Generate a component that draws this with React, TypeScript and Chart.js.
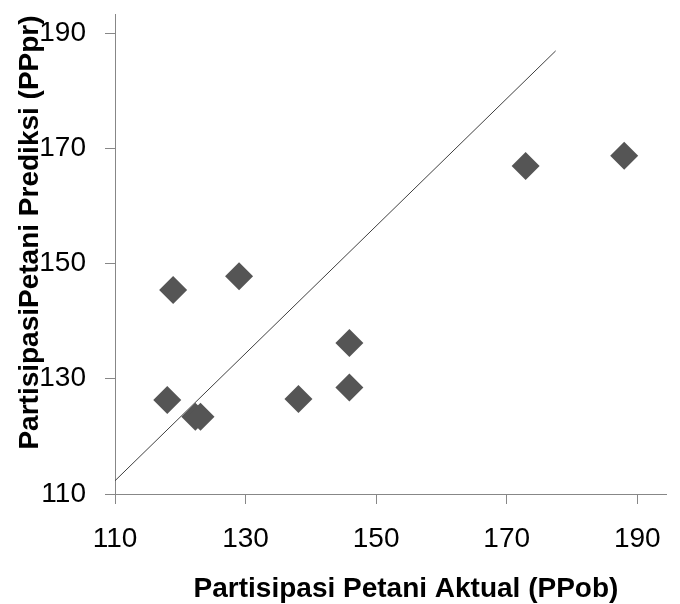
import React, { useEffect, useRef } from "react";
import { Chart, registerables } from "chart.js";

Chart.register(...registerables);

// Observed (actual) vs predicted participation
const actualPPob = [118, 118.9, 122.3, 123.1, 129, 138.1, 145.9, 145.9, 172.9, 188];
const predictedPPpr = [126.3, 145.4, 123.4, 123.4, 147.8, 126.5, 128.5, 136.2, 166.9, 168.7];

// Reference line end points
const lineX = [110, 177.5];
const lineY = [112.3, 186.9];

const xTicks = [110, 130, 150, 170, 190];
const yTicks = [110, 130, 150, 170, 190];

const xTitle = "Partisipasi Petani Aktual (PPob)";
const yTitle = "PartisipasiPetani Prediksi (PPpr)";

const FONT = "'Liberation Sans', Arial, sans-serif";
const AXIS = "#878787";

const titlePlugin = {
  id: "axisTitlesCustom",
  afterDraw(chart: any) {
    const ctx = chart.ctx;
    ctx.save();
    ctx.fillStyle = "#000";
    ctx.font = `bold 28px ${FONT}`;
    ctx.textAlign = "center";
    ctx.textBaseline = "alphabetic";
    ctx.fillText(xTitle, 406, 597);
    ctx.translate(38, 232.5);
    ctx.rotate(-Math.PI / 2);
    ctx.fillText(yTitle, 0, 0);
    ctx.restore();
  },
};

export default function App() {
  const ref = useRef<HTMLCanvasElement | null>(null);

  useEffect(() => {
    if (!ref.current) return;
    const chart = new Chart(ref.current, {
      type: "scatter",
      data: {
        datasets: [
          {
            label: "line",
            data: lineX.map((x, i) => ({ x, y: lineY[i] })),
            showLine: true,
            borderColor: "#3f3f3f",
            borderWidth: 1,
            pointRadius: 0,
            order: 2,
          },
          {
            label: "data",
            data: actualPPob.map((x, i) => ({ x, y: predictedPPpr[i] })),
            pointStyle: "rectRot",
            pointRadius: 14,
            pointHoverRadius: 14,
            backgroundColor: "#555555",
            borderColor: "#555555",
            borderWidth: 0,
            order: 1,
          },
        ],
      },
      options: {
        responsive: false,
        animation: false,
        events: [],
        layout: { padding: { top: 10, right: 14, left: 0, bottom: 0 } },
        plugins: {
          legend: { display: false },
          tooltip: { enabled: false },
          title: { display: false },
        },
        scales: {
          x: {
            type: "linear",
            min: 110,
            max: 194.4,
            afterBuildTicks: (s: any) => {
              s.ticks = xTicks.map((v) => ({ value: v }));
            },
            afterFit: (s: any) => {
              s.height = 110;
              s.paddingLeft = 0;
              s.paddingRight = 0;
            },
            grid: { drawOnChartArea: false, drawTicks: true, tickLength: 10, color: AXIS },
            border: { color: AXIS, width: 1 },
            ticks: {
              color: "#000",
              font: { family: FONT, size: 28 },
              padding: 18,
              maxRotation: 0,
            },
          },
          y: {
            type: "linear",
            min: 110,
            max: 193.3,
            afterBuildTicks: (s: any) => {
              s.ticks = yTicks.map((v) => ({ value: v }));
            },
            afterFit: (s: any) => {
              s.width = 115;
              s.paddingTop = 0;
              s.paddingBottom = 0;
            },
            grid: { drawOnChartArea: false, drawTicks: true, tickLength: 10, color: AXIS },
            border: { color: AXIS, width: 1 },
            ticks: {
              color: "#000",
              font: { family: FONT, size: 28 },
              padding: 19,
            },
          },
        },
      },
      plugins: [titlePlugin],
    } as any);
    return () => chart.destroy();
  }, []);

  return (
    <div style={{ position: "fixed", left: 0, top: 0, width: 680, height: 604, background: "#fff" }}>
      <canvas ref={ref} width={680} height={604} style={{ display: "block" }} />
    </div>
  );
}
